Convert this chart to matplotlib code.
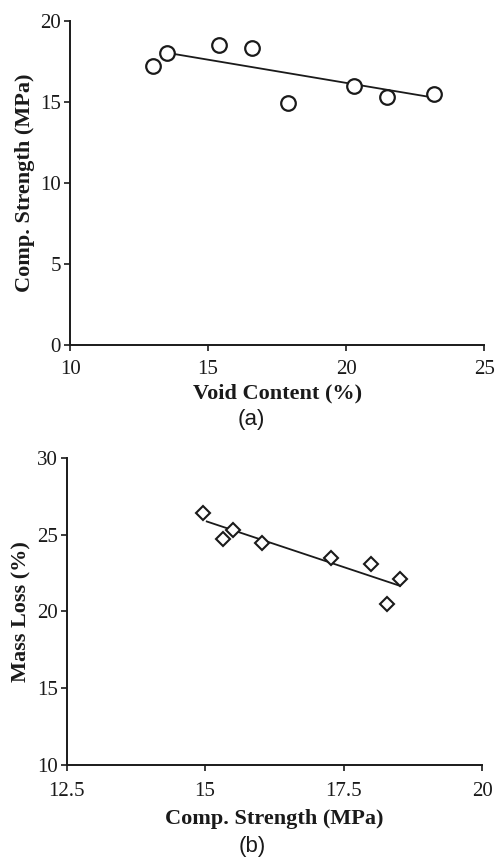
import numpy as np
import matplotlib.pyplot as plt

# (a) void content vs compressive strength
void_content = [13.0, 13.5, 15.4, 16.6, 17.9, 20.3, 21.5, 23.2]
comp_strength_a = [17.2, 18.0, 18.5, 18.3, 14.9, 16.0, 15.3, 15.5]
trend_a_x = [13.4, 23.2]
trend_a_y = [18.05, 15.25]

# (b) compressive strength vs mass loss
comp_strength_b = [14.97, 15.33, 15.51, 16.02, 17.27, 17.99, 18.29, 18.52]
mass_loss = [26.4, 24.7, 25.3, 24.45, 23.5, 23.1, 20.5, 22.1]
trend_b_x = [15.03, 18.52]
trend_b_y = [25.85, 21.65]

serif = ["Liberation Serif", "DejaVu Serif"]
ink = "#1a1a1a"


def style_axes(ax, xpad):
    for side in ["top", "right"]:
        ax.spines[side].set_visible(False)
    for side in ["left", "bottom"]:
        ax.spines[side].set_linewidth(1.4)
        ax.spines[side].set_color(ink)
    ax.tick_params(direction="out", length=4.5, width=1.2, color=ink, pad=2,
                   labelsize=15, labelcolor=ink)
    ax.tick_params(axis="x", pad=xpad)
    for lab in ax.get_xticklabels() + ax.get_yticklabels():
        lab.set_fontfamily(serif)


fig = plt.figure(figsize=(4.97, 8.59), dpi=100)

ax1 = fig.add_axes([0.141, 0.598, 0.833, 0.378])
ax1.plot(trend_a_x, trend_a_y, color=ink, lw=1.3)
ax1.plot(void_content, comp_strength_a, "o", mfc="white", mec=ink, mew=1.6, ms=10.5)
ax1.set_xlim(10, 25)
ax1.set_ylim(0, 20)
ax1.set_xticks([10, 15, 20, 25])
ax1.set_yticks([0, 5, 10, 15, 20])
style_axes(ax1, 6)
ax1.set_xlabel("Void Content (%)", fontfamily=serif, fontweight="bold", fontsize=16,
               color=ink, labelpad=3)
ax1.set_ylabel("Comp. Strength (MPa)", fontfamily=serif, fontweight="bold", fontsize=16,
               color=ink, labelpad=4)

ax2 = fig.add_axes([0.134, 0.110, 0.836, 0.357])
ax2.plot(trend_b_x, trend_b_y, color=ink, lw=1.3)
ax2.plot(comp_strength_b, mass_loss, "D", mfc="white", mec=ink, mew=1.5, ms=7.5)
ax2.set_xlim(12.5, 20)
ax2.set_ylim(10, 30)
ax2.set_xticks([12.5, 15, 17.5, 20])
ax2.set_xticklabels(["12.5", "15", "17.5", "20"])
ax2.set_yticks([10, 15, 20, 25, 30])
style_axes(ax2, 8)
ax2.set_xlabel("Comp. Strength (MPa)", fontfamily=serif, fontweight="bold", fontsize=16,
               color=ink, labelpad=6)
ax2.set_ylabel("Mass Loss (%)", fontfamily=serif, fontweight="bold", fontsize=16,
               color=ink, labelpad=4)

fig.text(0.505, 0.512, "(a)", ha="center", va="center", fontsize=16,
         fontfamily="Liberation Sans", color=ink)
fig.text(0.508, 0.014, "(b)", ha="center", va="center", fontsize=16,
         fontfamily="Liberation Sans", color=ink)

fig.savefig("out.png", dpi=100)
